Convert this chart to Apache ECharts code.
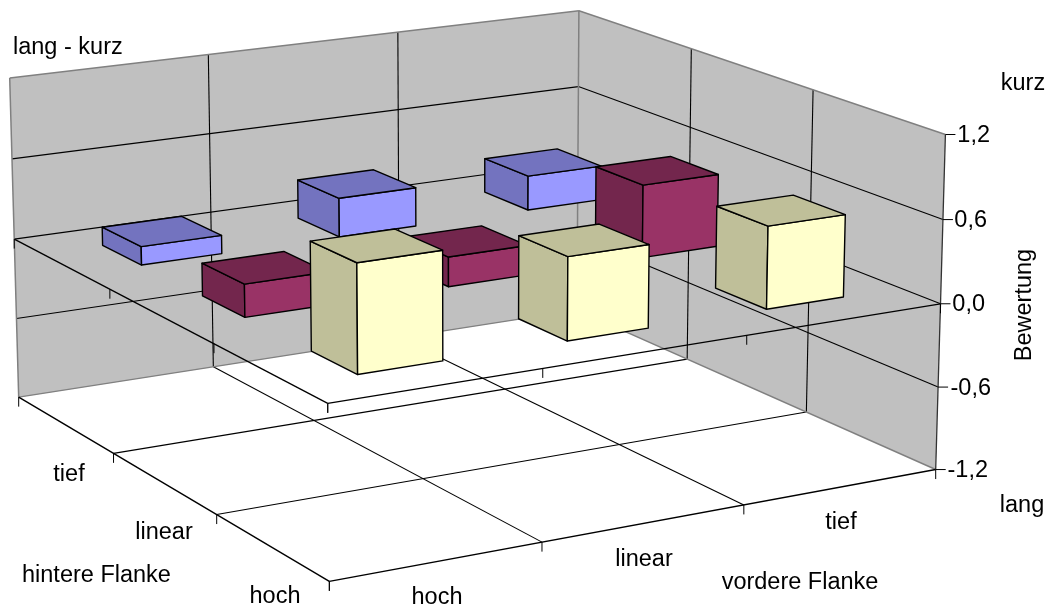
<!DOCTYPE html>
<html><head><meta charset="utf-8">
<style>html,body{margin:0;padding:0;background:#fff}#c{width:1050px;height:608px}</style>
<script src="https://cdn.jsdelivr.net/npm/echarts@6/dist/echarts.min.js"></script>
</head><body><div id="c"></div>
<script>
// ---- chart data ----
var vordereFlanke = ['hoch', 'linear', 'tief'];
var hintereFlanke = ['tief', 'linear', 'hoch'];
var rowTief   = [0.135, 0.29, 0.26];
var rowLinear = [0.235, 0.215, 0.535];
var rowHoch   = [0.755, 0.585, 0.59];
var valueTicks = [1.2, 0.6, 0.0, -0.6, -1.2];
var valueLabels = ['1,2', '0,6', '0,0', '-0,6', '-1,2'];
var zMin = -1.2, zMax = 1.2;

// ---- perspective camera, calibrated on the frame corners: [x, y, value, px, py] ----
var calib = [
 [0,0,-1.2,18,397],[1,0,-1.2,577,310],[1,1,-1.2,935,470],[0,1,-1.2,329,581],
 [0,0,1.2,10,78],[1,0,1.2,579,11],[1,1,1.2,945,134],
 [0,1,0,328,403],[1,1,0,941,303],[0,0,0,14,239],[1,0,0,577,162],
 [1/3,1,-1.2,542,543],[2/3,1,-1.2,744,505],[0,1/3,-1.2,114,453],[0,2/3,-1.2,217,514],
 [1/3,1,0,542,369],[2/3,1,0,747,336],
 [1/3,0,1.2,208,54],[2/3,0,1.2,398,32],[1,1/3,1.2,692,49],[1,2/3,1.2,813,90],
 [1/3,0,-1.2,214,368],[1,1/3,-1.2,687,358],[1,2/3,-1.2,807,412]
];
function zNorm(v){ return echarts.number.linearMap(v,[zMin,zMax],[-1,1]); }
function solve(A,b){
  var n=b.length,i,j,k;
  for(i=0;i<n;i++){
    var m=i; for(k=i+1;k<n;k++) if(Math.abs(A[k][i])>Math.abs(A[m][i])) m=k;
    var t=A[i];A[i]=A[m];A[m]=t; t=b[i];b[i]=b[m];b[m]=t;
    for(k=i+1;k<n;k++){ var f=A[k][i]/A[i][i]; for(j=i;j<n;j++) A[k][j]-=f*A[i][j]; b[k]-=f*b[i]; }
  }
  var x=[]; for(i=n-1;i>=0;i--){ var s=b[i]; for(j=i+1;j<n;j++) s-=A[i][j]*x[j]; x[i]=s/A[i][i]; }
  return x;
}
var cam=(function(){
  var N=[],B=[],i,j; for(i=0;i<11;i++){N.push(new Array(11).fill(0));B.push(0);}
  function add(r,v){ for(var a=0;a<11;a++){ for(var c=0;c<11;c++) N[a][c]+=r[a]*r[c]; B[a]+=r[a]*v; } }
  calib.forEach(function(c){
    var X=c[0],Y=c[1],Z=zNorm(c[2]),u=c[3]/1000,w=c[4]/1000;
    add([X,Y,Z,1,0,0,0,0,-u*X,-u*Y,-u*Z],u);
    add([0,0,0,0,X,Y,Z,1,-w*X,-w*Y,-w*Z],w);
  });
  return solve(N,B);
})();
function P(x,y,v){
  var Z=zNorm(v),d=cam[8]*x+cam[9]*y+cam[10]*Z+1;
  return [1000*(cam[0]*x+cam[1]*y+cam[2]*Z+cam[3])/d, 1000*(cam[4]*x+cam[5]*y+cam[6]*Z+cam[7])/d];
}

// ---- frame drawing ----
function poly(pts,fill,stroke,w){ return {type:'polygon',shape:{points:pts},style:{fill:fill,stroke:stroke||null,lineWidth:w||0}}; }
function line(a,b,c,w){ return {type:'line',shape:{x1:a[0],y1:a[1],x2:b[0],y2:b[1]},style:{stroke:c||'#000',lineWidth:w||1,fill:null}}; }
var GRID='#000', EDGE='#808080';
function frame(){
  var ch=[], i;
  ch.push(poly([P(0,0,zMin),P(1,0,zMin),P(1,0,zMax),P(0,0,zMax)],'#C0C0C0'));
  ch.push(poly([P(1,0,zMin),P(1,1,zMin),P(1,1,zMax),P(1,0,zMax)],'#C0C0C0'));
  // value gridlines on the walls
  valueTicks.forEach(function(v){
    if(v===zMin||v===zMax) return;
    ch.push(line(P(0,0,v),P(1,0,v),GRID,1.1));
    ch.push(line(P(1,0,v),P(1,1,v),GRID,1.1));
  });
  // category gridlines on walls and floor
  for(i=1;i<3;i++){
    ch.push(line(P(i/3,0,zMin),P(i/3,0,zMax),GRID,1.1));
    ch.push(line(P(1,i/3,zMin),P(1,i/3,zMax),GRID,1.1));
    ch.push(line(P(i/3,0,zMin),P(i/3,1,zMin),GRID,1.1));
    ch.push(line(P(0,i/3,zMin),P(1,i/3,zMin),GRID,1.1));
  }
  // wall edges
  [[[0,0,zMin],[0,0,zMax]],[[0,0,zMax],[1,0,zMax]],[[1,0,zMax],[1,1,zMax]],[[1,0,zMin],[1,0,zMax]],
   [[0,0,zMin],[1,0,zMin]],[[1,0,zMin],[1,1,zMin]]].forEach(function(e){
    ch.push(line(P.apply(null,e[0]),P.apply(null,e[1]),EDGE,1.5));
  });
  ch.push(line(P(1,1,zMin),P(1,1,zMax),'#333',1.3));
  // axes on floor
  ch.push(line(P(0,0,zMin),P(0,1,zMin),'#000',1.4));
  ch.push(line(P(0,1,zMin),P(1,1,zMin),'#000',1.4));
  // base plane at value 0
  ch.push(line(P(0,0,0),P(0,1,0),'#000',1.3));
  ch.push(line(P(0,1,0),P(1,1,0),'#000',1.3));
  // ticks
  for(i=0;i<=3;i++){
    [[0,i/3,zMin],[i/3,1,zMin],[0,i/3,0],[i/3,1,0]].forEach(function(t){
      var a=P(t[0],t[1],t[2]); ch.push(line(a,[a[0],a[1]+9.5],'#000',1));
    });
  }
  valueTicks.forEach(function(v){
    var a=P(1,1,v); ch.push(line(a,[a[0]+10,a[1]],'#000',1));
  });
  return {type:'group',children:ch,silent:true};
}

// ---- bars ----
var halfBar = 0.2/3;
function barRenderer(rowIndex,colors){
  return function(params,api){
    var col=api.value(0), val=api.value(1);
    var cx=(col+0.5)/3, cy=(rowIndex+0.5)/3;
    var x0=cx-halfBar,x1=cx+halfBar,y0=cy-halfBar,y1=cy+halfBar;
    var st={stroke:'#000',lineWidth:1.4,lineJoin:'round'};
    function f(pts,c){ return {type:'polygon',shape:{points:pts},style:Object.assign({fill:c},st)}; }
    return {type:'group',silent:true,children:[
      f([P(x0,y0,0),P(x0,y1,0),P(x0,y1,val),P(x0,y0,val)],colors[1]),
      f([P(x0,y1,0),P(x1,y1,0),P(x1,y1,val),P(x0,y1,val)],colors[0]),
      f([P(x0,y0,val),P(x1,y0,val),P(x1,y1,val),P(x0,y1,val)],colors[1])
    ]};
  };
}
function barSeries(name,row,values,colors){
  return {type:'custom',name:name,coordinateSystem:'none',silent:true,animation:false,
    renderItem:barRenderer(row,colors),encode:{value:[1]},
    data:values.map(function(v,i){return [i,v];})};
}

// ---- texts ----
var FONT='23.5px "Liberation Sans", Arial, sans-serif';
function label(text,x,y,align,rot){
  return {type:'text',x:x,y:y,rotation:rot||0,silent:true,z:20,
    style:{text:text,font:FONT,fill:'#000',textAlign:align||'center',textVerticalAlign:'middle'}};
}
var texts=[
  label('lang - kurz',13,47.5,'left'),
  label('kurz',1023,83.5),
  label('lang',1022,505.5),
  label('hintere Flanke',22,575.5,'left'),
  label('vordere Flanke',800,582.5),
  label('Bewertung',1025,305,'center',Math.PI/2),
  label(hintereFlanke[0],69,474.5),label(hintereFlanke[1],164,532.5),label(hintereFlanke[2],275,596.5),
  label(vordereFlanke[0],437,597.5),label(vordereFlanke[1],644,559.5),label(vordereFlanke[2],841,522.5)
];
var labelRight=[990,987,985,991,988];
valueTicks.forEach(function(v,i){
  texts.push(label(valueLabels[i],labelRight[i],P(1,1,v)[1]+1,'right'));
});

var chart=echarts.init(document.getElementById('c'),null,{renderer:'canvas',width:1050,height:608});
chart.setOption({
  animation:false,
  backgroundColor:'#fff',
  graphic:{elements:texts},
  series:[
    {type:'custom',name:'frame',coordinateSystem:'none',silent:true,animation:false,renderItem:frame,data:[[0]]},
    barSeries('tief',0,rowTief,['#9999FF','#7373BF']),
    barSeries('linear',1,rowLinear,['#993366','#73264D']),
    barSeries('hoch',2,rowHoch,['#FFFFCC','#BFBF99'])
  ]
});
</script></body></html>
